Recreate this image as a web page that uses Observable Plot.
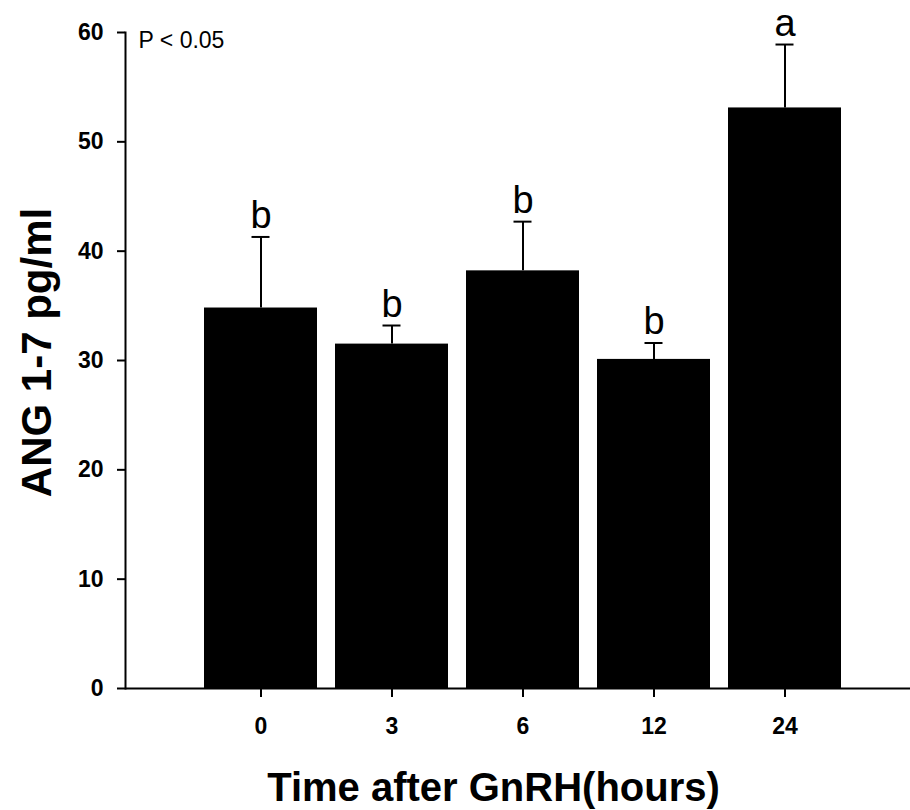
<!DOCTYPE html>
<html>
<head>
<meta charset="utf-8">
<script src="https://cdn.jsdelivr.net/npm/d3@7"></script>
<script src="https://cdn.jsdelivr.net/npm/@observablehq/plot@0.6"></script>
<style>
  html, body { margin: 0; padding: 0; background: #ffffff; }
  #chart { width: 910px; height: 810px; }
</style>
</head>
<body>
<div id="chart"></div>
<script>
// Data
const timepoints = ["0", "3", "6", "12", "24"];
const means = [34.8, 31.5, 38.2, 30.1, 53.1];
const sems = [6.5, 1.7, 4.5, 1.5, 5.8];
const letters = ["b", "b", "b", "b", "a"];
const yTicks = [0, 10, 20, 30, 40, 50, 60];
const yTitle = "ANG 1-7 pg/ml";
const xTitle = "Time after GnRH(hours)";
const note = "P < 0.05";

const rows = timepoints.map((t, i) => ({
  time: t, mean: means[i], sem: sems[i], top: means[i] + sems[i], letter: letters[i]
}));

const font = "'Liberation Sans', Arial, sans-serif";

const chart = Plot.plot({
  width: 910,
  height: 810,
  marginLeft: 125,
  marginRight: 0,
  marginTop: 32,
  marginBottom: 122,
  style: { fontFamily: font, color: "#000", background: "#fff", overflow: "visible" },
  x: { domain: timepoints, padding: 0.135, paddingOuter: 0.547, align: 0.535, label: null },
  y: { domain: [0, 60], label: null },
  marks: [
    Plot.barY(rows, { x: "time", y: "mean", fill: "#000" }),
    Plot.ruleX(rows, { x: "time", y1: "mean", y2: "top", stroke: "#000", strokeWidth: 2 }),
    Plot.tickY(rows, { x: "time", y: "top", stroke: "#000", strokeWidth: 2, insetLeft: 47.5, insetRight: 47.5 }),
    Plot.text(rows, { x: "time", y: "top", text: "letter", dy: -9, lineAnchor: "bottom", fontSize: 38, fill: "#000" }),
    Plot.ruleY([0], { stroke: "#000", strokeWidth: 2 }),
    Plot.frame({ anchor: "left", stroke: "#000", strokeWidth: 2 }),
    Plot.axisY({ ticks: yTicks, tickSize: 8, strokeWidth: 2, tickFormat: () => "", label: null }),
    Plot.axisX({ tickSize: 9, strokeWidth: 2, tickFormat: () => "", label: null }),
    Plot.text(yTicks, { y: (d) => d, text: (d) => String(d), frameAnchor: "left", dx: -22, textAnchor: "end", lineAnchor: "middle", fontSize: 23, fontWeight: "bold", fill: "#000" }),
    Plot.text(timepoints, { x: (d) => d, text: (d) => d, frameAnchor: "bottom", dy: 29, textAnchor: "middle", lineAnchor: "top", fontSize: 23, fontWeight: "bold", fill: "#000" }),
    Plot.text([note], { frameAnchor: "top-left", dx: 13, dy: 15, textAnchor: "start", lineAnchor: "bottom", fontSize: 23, fill: "#000" }),
    Plot.text([yTitle], { frameAnchor: "left", rotate: -90, dx: -75, dy: -8, textAnchor: "middle", lineAnchor: "bottom", fontSize: 42, fontWeight: "bold", fill: "#000" }),
    Plot.text([xTitle], { frameAnchor: "bottom", dx: -24.5, dy: 112, textAnchor: "middle", lineAnchor: "bottom", fontSize: 40, fontWeight: "bold", fill: "#000" })
  ]
});

document.getElementById("chart").appendChild(chart);
</script>
</body>
</html>
